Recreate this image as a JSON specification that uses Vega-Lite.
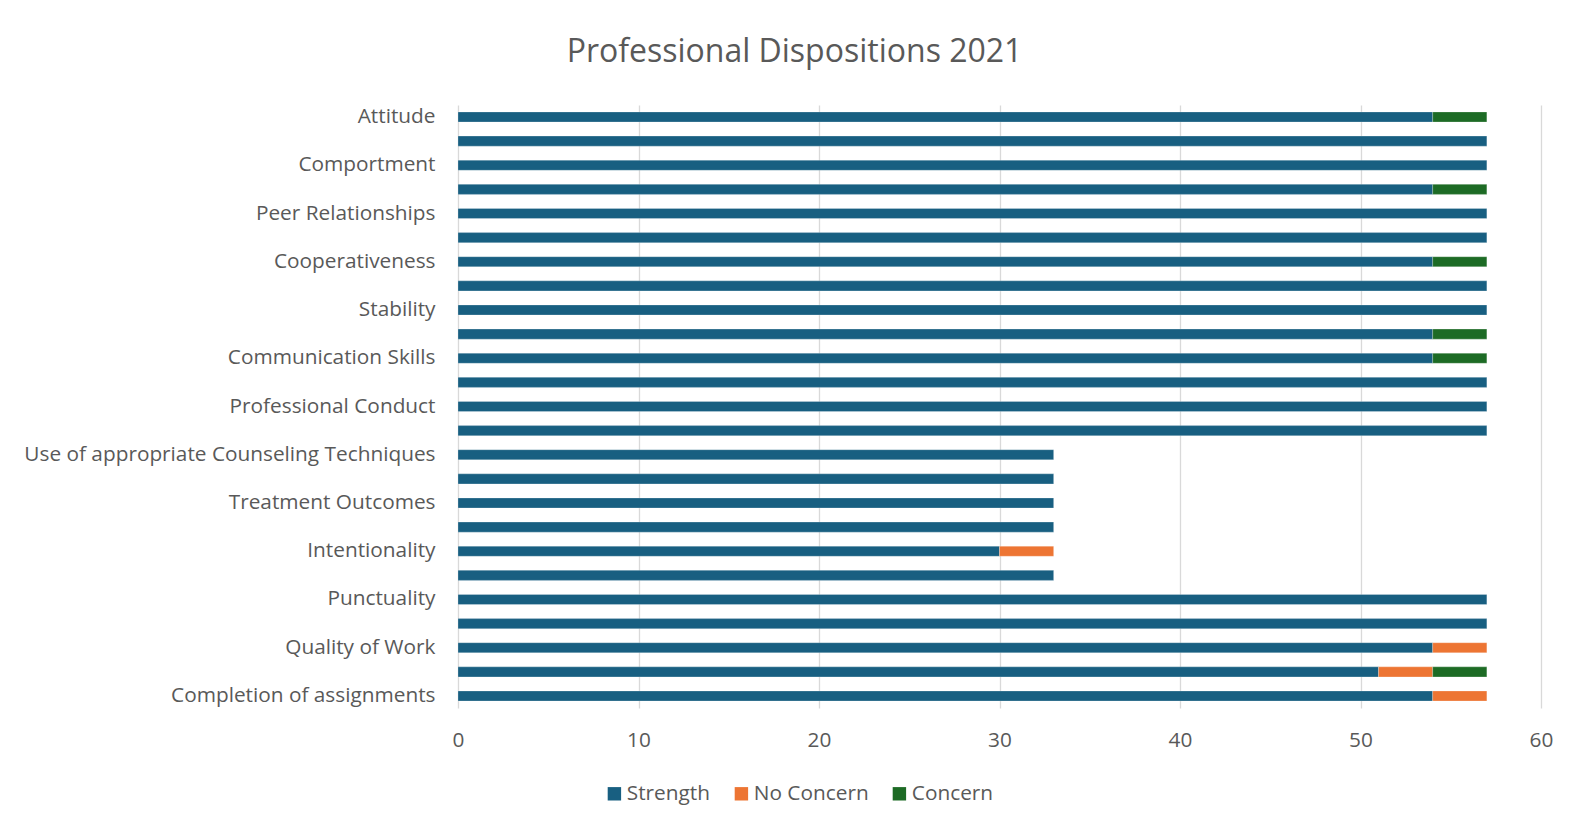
{
  "$schema": "https://vega.github.io/schema/vega-lite/v6.json",
  "autosize": {"type": "none"},
  "padding": {"left": 458, "top": 105, "right": 32, "bottom": 120},
  "width": 1083,
  "height": 603,
  "background": "white",
  "title": {
    "text": "Professional Dispositions 2021",
    "font": "Open Sans",
    "fontSize": 32,
    "fontWeight": "normal",
    "color": "#595959",
    "anchor": "middle",
    "frame": "group",
    "dx": -205,
    "offset": 36
  },
  "data": {
    "values": [
      {"item": "Attitude", "status": "Strength", "value": 54},
      {"item": "Attitude", "status": "Concern", "value": 3},
      {"item": "Item 2", "status": "Strength", "value": 57},
      {"item": "Comportment", "status": "Strength", "value": 57},
      {"item": "Item 4", "status": "Strength", "value": 54},
      {"item": "Item 4", "status": "Concern", "value": 3},
      {"item": "Peer Relationships", "status": "Strength", "value": 57},
      {"item": "Item 6", "status": "Strength", "value": 57},
      {"item": "Cooperativeness", "status": "Strength", "value": 54},
      {"item": "Cooperativeness", "status": "Concern", "value": 3},
      {"item": "Item 8", "status": "Strength", "value": 57},
      {"item": "Stability", "status": "Strength", "value": 57},
      {"item": "Item 10", "status": "Strength", "value": 54},
      {"item": "Item 10", "status": "Concern", "value": 3},
      {"item": "Communication Skills", "status": "Strength", "value": 54},
      {"item": "Communication Skills", "status": "Concern", "value": 3},
      {"item": "Item 12", "status": "Strength", "value": 57},
      {"item": "Professional Conduct", "status": "Strength", "value": 57},
      {"item": "Item 14", "status": "Strength", "value": 57},
      {"item": "Use of appropriate Counseling Techniques", "status": "Strength", "value": 33},
      {"item": "Item 16", "status": "Strength", "value": 33},
      {"item": "Treatment Outcomes", "status": "Strength", "value": 33},
      {"item": "Item 18", "status": "Strength", "value": 33},
      {"item": "Intentionality", "status": "Strength", "value": 30},
      {"item": "Intentionality", "status": "No Concern", "value": 3},
      {"item": "Item 20", "status": "Strength", "value": 33},
      {"item": "Punctuality", "status": "Strength", "value": 57},
      {"item": "Item 22", "status": "Strength", "value": 57},
      {"item": "Quality of Work", "status": "Strength", "value": 54},
      {"item": "Quality of Work", "status": "No Concern", "value": 3},
      {"item": "Item 24", "status": "Strength", "value": 51},
      {"item": "Item 24", "status": "No Concern", "value": 3},
      {"item": "Item 24", "status": "Concern", "value": 3},
      {"item": "Completion of assignments", "status": "Strength", "value": 54},
      {"item": "Completion of assignments", "status": "No Concern", "value": 3}
    ]
  },
  "transform": [
    {"calculate": "indexof(['Strength','No Concern','Concern'], datum.status)", "as": "stackOrder"}
  ],
  "mark": {"type": "bar", "stroke": "white", "strokeWidth": 0.4, "strokeOpacity": 0.6},
  "encoding": {
    "y": {
      "field": "item",
      "type": "nominal",
      "sort": null,
      "scale": {"paddingInner": 0.585, "paddingOuter": 0.29},
      "axis": {
        "title": null,
        "domain": false,
        "ticks": false,
        "grid": false,
        "labelPadding": 23,
        "labelFont": "Open Sans",
        "labelFontSize": 20.8,
        "labelColor": "#595959",
        "labelLimit": 500,
        "labelOverlap": false,
        "labelExpr": "test(/^Item [0-9]+$/, datum.label) ? '' : datum.label"
      }
    },
    "x": {
      "field": "value",
      "type": "quantitative",
      "stack": "zero",
      "scale": {"domain": [0, 60], "nice": false},
      "axis": {
        "title": null,
        "values": [0, 10, 20, 30, 40, 50, 60],
        "domain": false,
        "ticks": false,
        "grid": true,
        "gridColor": "#D9D9D9",
        "gridWidth": 1.3,
        "labelFlush": false,
        "labelPadding": 22,
        "labelFont": "Open Sans",
        "labelFontSize": 20.8,
        "labelColor": "#595959"
      }
    },
    "order": {"field": "stackOrder", "type": "quantitative"},
    "color": {
      "field": "status",
      "type": "nominal",
      "scale": {
        "domain": ["Strength", "No Concern", "Concern"],
        "range": ["#185F81", "#ED7533", "#1D6B25"]
      },
      "legend": {
        "title": null,
        "orient": "none",
        "direction": "horizontal",
        "legendX": 146,
        "legendY": 678,
        "symbolType": "square",
        "symbolSize": 180,
        "symbolStrokeWidth": 0,
        "labelFont": "Open Sans",
        "labelFontSize": 20.8,
        "labelColor": "#595959",
        "labelOffset": 2,
        "columnPadding": 20
      }
    }
  },
  "config": {"view": {"stroke": null}}
}
